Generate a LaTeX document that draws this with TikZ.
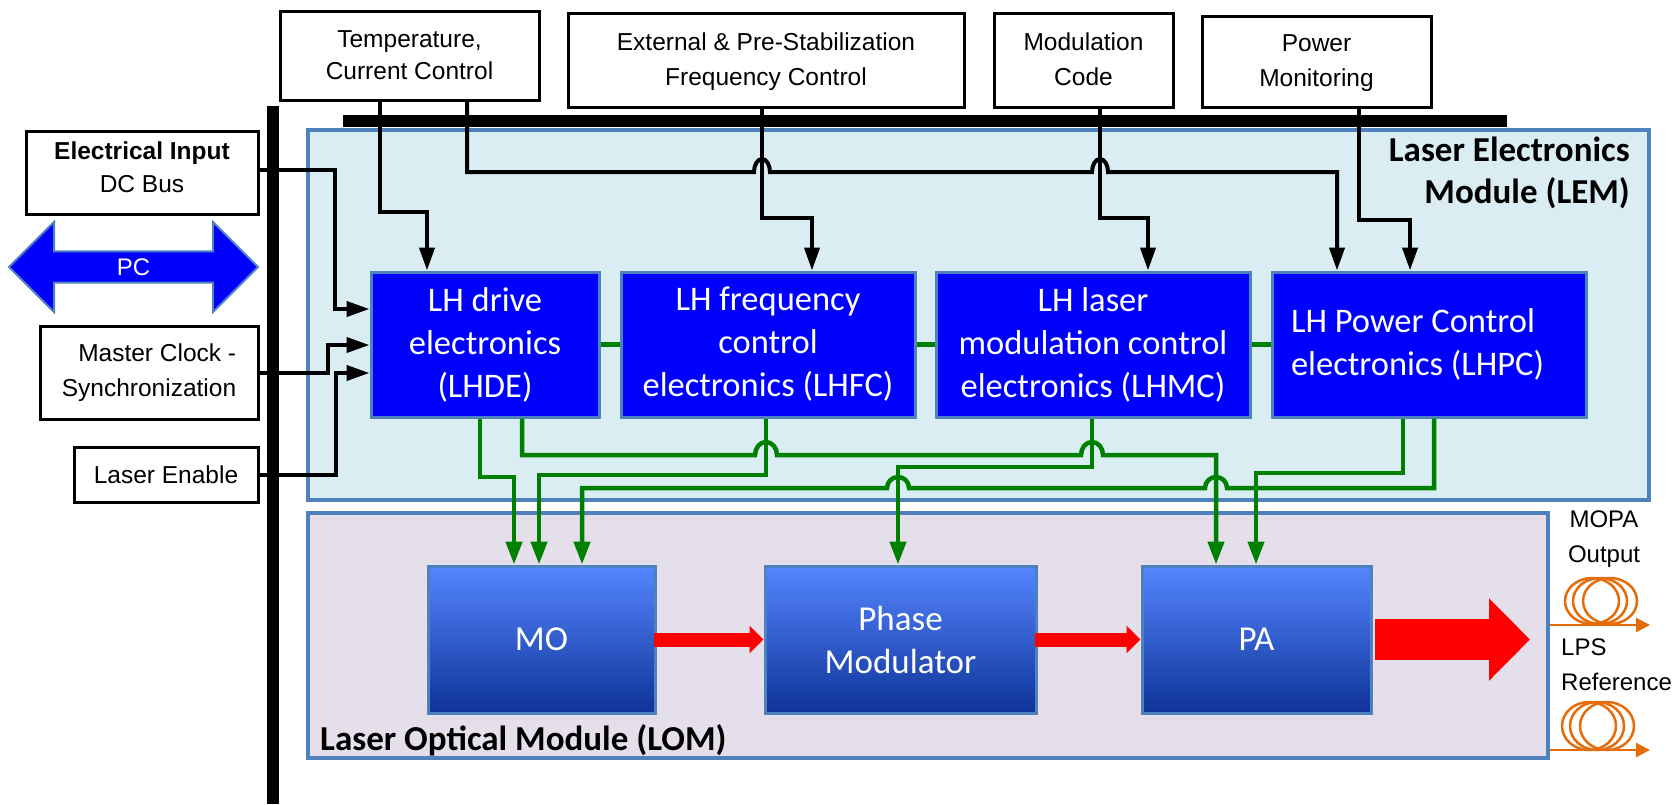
\documentclass[tikz,border=0pt]{standalone}
\usepackage{fontspec}
\setmainfont{Liberation Sans}
\newfontfamily\calibrilike{Carlito}
\usetikzlibrary{arrows.meta,shapes.arrows}

\definecolor{panelblue}{HTML}{DAEDF3}
\definecolor{panelmauve}{HTML}{E5DFEC}
\definecolor{edgeblue}{HTML}{4F81BD}
\definecolor{moduletop}{HTML}{5586FF}
\definecolor{modulebot}{HTML}{0E3399}
\definecolor{signalgreen}{HTML}{008000}
\definecolor{fibreorange}{HTML}{E46C0A}

\tikzset{
    panel/.style={draw=edgeblue, line width=4.5pt, inner sep=0pt},
    ctlbox/.style={draw=black, fill=white, line width=3pt, align=center, inner sep=0pt,
        font=\fontsize{24.5}{35}\selectfont},
    lhbox/.style={draw=edgeblue, fill=blue, line width=3pt, text=white, align=center, inner sep=0pt,
        minimum height=145pt, font=\calibrilike\fontsize{34.5}{43}\selectfont},
    modbox/.style={draw=edgeblue, line width=3pt, top color=moduletop, bottom color=modulebot,
        text=white, align=center, inner sep=0pt, minimum height=147pt,
        font=\calibrilike\fontsize{35}{43}\selectfont},
    paneltitle/.style={align=right, inner sep=0pt, font=\calibrilike\bfseries\fontsize{35}{42}\selectfont},
    plainlabel/.style={inner sep=0pt, font=\fontsize{24}{35}\selectfont},
    bar/.style={fill=black, inner sep=0pt},
    ctl/.style={draw=black, line width=4pt, -{Triangle[length=23pt,width=15pt]}},
    sig/.style={draw=signalgreen, line width=4.5pt, -{Triangle[length=23pt,width=16pt]}},
    beam/.style={draw=red, line width=14pt, -{Triangle[length=14pt,width=27pt]}, shorten <=-3pt},
    fibre/.style={draw=fibreorange, line width=2.5pt},
}

\begin{document}
\begin{tikzpicture}[x=1pt,y=-1pt]

    \useasboundingbox (0,0) rectangle (1677,804);

    \node[panel, fill=panelblue, minimum width=1341pt, minimum height=370pt] (lem) at (978.5,315) {};
    \node[panel, fill=panelmauve, minimum width=1240pt, minimum height=245pt] (lom) at (928,635.5) {};
    \node[paneltitle, anchor=east] (lemtitle) at (1630,173) {Laser Electronics\\Module (LEM)};
    \node[paneltitle, anchor=west] (lomtitle) at (320,740) {Laser Optical Module (LOM)};

    \node[bar, minimum width=12pt, minimum height=698pt] (busleft) at (273,455) {};
    \node[bar, minimum width=1164pt, minimum height=12pt] (bustop) at (925,121) {};

    \node[ctlbox, font=\fontsize{24.5}{32}\selectfont, minimum width=259pt, minimum height=89pt] (tempctl) at (409.5,55.5) {Temperature,\\Current Control};
    \node[ctlbox, text depth=2pt, minimum width=396pt, minimum height=94pt] (freqctl) at (766,60) {External \& Pre-Stabilization\\Frequency Control};
    \node[ctlbox, text depth=2pt, minimum width=179pt, minimum height=94pt] (modcode) at (1083.5,60) {Modulation\\Code};
    \node[ctlbox, text depth=2pt, minimum width=229pt, minimum height=91pt] (powmon) at (1316.5,61.5) {Power\\Monitoring};

    \node[ctlbox, font=\fontsize{24.5}{33}\selectfont, text depth=10pt, minimum width=232pt, minimum height=83pt] (elecin) at (142,172.5) {\textbf{Electrical Input}\\DC Bus};
    \node[ctlbox, align=right, minimum width=218pt, minimum height=93pt] (clock) at (149,372.5) {Master Clock -\\Synchronization};
    \node[ctlbox, minimum width=184pt, minimum height=55pt] (enable) at (166,474.5) {Laser Enable};

    \node[double arrow, draw=edgeblue, fill=blue, line width=2pt, text=white, inner sep=0pt,
        minimum height=249pt, minimum width=90pt, double arrow head extend=18pt,
        font=\fontsize{24}{28}\selectfont] (pc) at (133.5,267) {PC};

    \node[lhbox, minimum width=228pt] (lhde) at (485,344.5) {LH drive\\electronics\\(LHDE)};
    \node[lhbox, minimum width=294pt] (lhfc) at (768,344.5) {LH frequency\\control\\electronics (LHFC)};
    \node[lhbox, minimum width=314pt] (lhmc) at (1093,344.5) {LH laser\\modulation control\\electronics (LHMC)};
    \node[lhbox, minimum width=314pt, inner xsep=19pt, text width=276pt, align=flush left] (lhpc) at (1429,344.5) {LH Power Control\\electronics (LHPC)};

    \node[modbox, minimum width=227pt] (mo) at (541.5,639.5) {MO};
    \node[modbox, minimum width=271pt] (phase) at (900.5,639.5) {Phase\\Modulator};
    \node[modbox, minimum width=229pt] (pa) at (1256.5,639.5) {PA};

    \node[plainlabel, align=center] (mopalabel) at (1604,539.5) {MOPA\\Output};
    \node[plainlabel, align=left, anchor=west] (lpslabel) at (1561,665) {LPS\\Reference};

    \draw[ctl] (elecin.east |- 0,170) -| (335,309) -- (335,309 -| lhde.west);
    \draw[ctl] (clock.east) -- (328,372.5) |- (345,345) -- (345,345 -| lhde.west);
    \draw[ctl] (enable.east) -| (336,373) -- (336,373 -| lhde.west);

    \draw[ctl] (380,0 |- tempctl.south) |- (427,212) -- (427,0 |- lhde.north);
    \draw[ctl] (762,0 |- freqctl.south) |- (812,218) -- (812,0 |- lhfc.north);
    \draw[ctl] (1100,0 |- modcode.south) |- (1148,218) -- (1148,0 |- lhmc.north);
    \draw[ctl] (1359,0 |- powmon.south) |- (1410,220) -- (1410,0 |- lhpc.north);
    \draw[ctl] (467,0 |- tempctl.south) |- (754,172)
        arc[start angle=180, end angle=0, x radius=8pt, y radius=13pt] -- (1092,172)
        arc[start angle=180, end angle=0, x radius=8pt, y radius=13pt] -| (1337,0 |- lhpc.north);

    \draw[sig, -] (lhde) -- (lhfc);
    \draw[sig, -] (lhfc) -- (lhmc);
    \draw[sig, -] (lhmc) -- (lhpc);

    \draw[sig] (480,0 |- lhde.south) |- (514,477) -- (514,0 |- mo.north);
    \draw[sig] (766,0 |- lhfc.south) |- (539,475) -- (539,0 |- mo.north);
    \draw[sig] (1092,0 |- lhmc.south) |- (898,467) -- (898,0 |- phase.north);
    \draw[sig] (1403,0 |- lhpc.south) |- (1256,473) -- (1256,0 |- pa.north);
    \draw[sig] (522,0 |- lhde.south) |- (755,455)
        arc[start angle=180, end angle=0, x radius=11pt, y radius=13pt] -- (1081,455)
        arc[start angle=180, end angle=0, x radius=11pt, y radius=13pt] -| (1216,0 |- pa.north);
    \draw[sig] (1434,0 |- lhpc.south) |- (1227,488)
        arc[start angle=0, end angle=180, x radius=11pt, y radius=11pt] -- (909,488)
        arc[start angle=0, end angle=180, x radius=11pt, y radius=11pt] -| (582,0 |- mo.north);

    \draw[beam] (mo.east) -- (phase.west);
    \draw[beam] (phase.east) -- (pa.west);
    \coordinate (beamend) at (1530,639.5);
    \draw[beam, line width=41pt, -{Triangle[length=41pt,width=80pt]}, shorten <=2pt] (pa.east) -- (beamend);

    \coordinate (mopaend) at (1650,625);
    \coordinate (lpsend) at (1650,750);
    \draw[fibre, -{Triangle[length=14pt,width=14pt]}] (lom.east |- mopaend) -- (mopaend);
    \draw[fibre, -{Triangle[length=14pt,width=14pt]}] (lom.east |- lpsend) -- (lpsend);
    \foreach \cx in {1592,1600,1610} {
        \draw[fibre] (\cx,601) ellipse [x radius=27pt, y radius=23pt];
        \draw[fibre] (\cx-3,726) ellipse [x radius=27pt, y radius=24pt];
    }

\end{tikzpicture}
\end{document}
